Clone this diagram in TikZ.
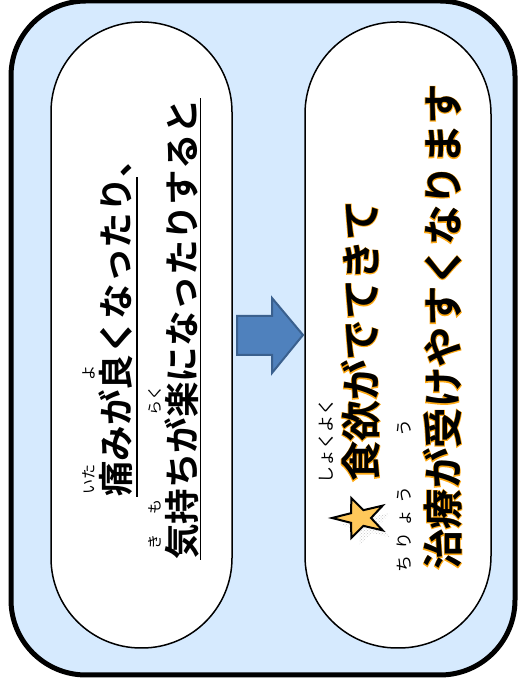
\documentclass[tikz,border=0pt]{standalone}
\usepackage{fontspec}
\usepackage{xcolor}
\usetikzlibrary{patterns}
\usetikzlibrary{calc}
\newfontfamily\jp{Noto Sans CJK JP}
\newfontfamily\jpbold{Noto Sans CJK JP Bold}
\newfontfamily\jphalo{Noto Sans CJK JP Bold}[FakeBold=3.5]
\definecolor{panelblue}{RGB}{214,234,254}
\definecolor{arrowblue}{RGB}{79,129,189}
\definecolor{arrowedge}{RGB}{58,96,142}
\definecolor{haloorange}{RGB}{255,170,20}
\definecolor{starfill}{RGB}{255,200,90}
% furigana over a base word
\newcommand\rubysz{15}
\newcommand\furi[3][0.97em]{%
  \setbox0=\hbox{#2}%
  \hbox to \wd0{\hss\raisebox{#1}[0pt][0pt]{\jp\fontsize{\rubysz}{\rubysz}\selectfont #3}\hss}%
  \kern-\wd0 \box0}
% black text with an orange rim
\newcommand\halo[1]{\rlap{\color{haloorange}\jphalo #1}#1}
\tikzset{
  capsule/.style={draw=black, line width=1.5pt, fill=white},
  lline/.style={rotate=90, anchor=base west, inner xsep=0pt, outer sep=0pt, text depth=0pt,
    font=\jpbold\fontsize{35.5}{36}\selectfont},
  rline/.style={rotate=90, anchor=base west, inner sep=0pt, outer sep=0pt,
    font=\jpbold\fontsize{40.5}{41}\selectfont\def\rubysz{17}},
  uline/.style={line width=1.6pt},
  bigarrow/.style={fill=arrowblue, draw=arrowedge, line width=2pt, line join=miter}
}
\begin{document}
\begin{tikzpicture}[x=1pt,y=1pt]
\useasboundingbox (0,0) rectangle (520,691);
% panel
\draw[line width=5pt, fill=panelblue, rounded corners=75pt] (11,16) rectangle (515,690);
\draw[capsule, rounded corners=90pt] (51,43) rectangle (232,669);
\draw[capsule, rounded corners=92pt] (305,43) rectangle (491,669);
% arrow between the capsules
\draw[bigarrow] (237,336) -- (272,336) -- (272,318) -- (303,356) -- (272,393)
  -- (272,375) -- (237,375) -- cycle;

% left capsule
\node[lline, inner ysep=8pt] (l1) at (129,194) {\furi{痛}{いた}みが\furi{良}{よ}くなったり};
\node[lline, inner ysep=0pt] (l1c) at (l1.base east) {、};
\draw[uline] (l1.south west) -- (l1.south east);
\node[lline, inner ysep=5.5pt] (l2) at (195,131) {\furi{気}{き}\furi{持}{も}ちが\furi{楽}{らく}になったりすると};
\draw[uline] (l2.south west) -- (l2.south east);

% right capsule
\begin{scope}[shift={(368,166)}, yscale=0.75]
  \fill[pattern=crosshatch dots, pattern color=gray!45] (180:28)
    \foreach \a in {1,...,9} { -- ({180+36*\a}:{ifthenelse(mod(\a,2)==0,28,11)}) } -- cycle;
\end{scope}
\begin{scope}[shift={(360,173)}, yscale=0.75]
  \draw[fill=starfill, line width=2pt, line join=miter] (180:28)
    \foreach \a in {1,...,9} { -- ({180+36*\a}:{ifthenelse(mod(\a,2)==0,28,11)}) } -- cycle;
\end{scope}
\node[rline] (r1) at (376,209) {\furi[1.08em]{\halo{食欲}}{しょくよく}\halo{がでてきて}};
\node[rline] (r2) at (458,121) {\furi[1.17em]{\halo{治療}}{ち\hspace{6pt}り\hspace{6pt}ょ\hspace{6pt}う}\halo{が}\furi[1.17em]{\halo{受}}{う}\halo{けやすくなります}};
\end{tikzpicture}
\end{document}
